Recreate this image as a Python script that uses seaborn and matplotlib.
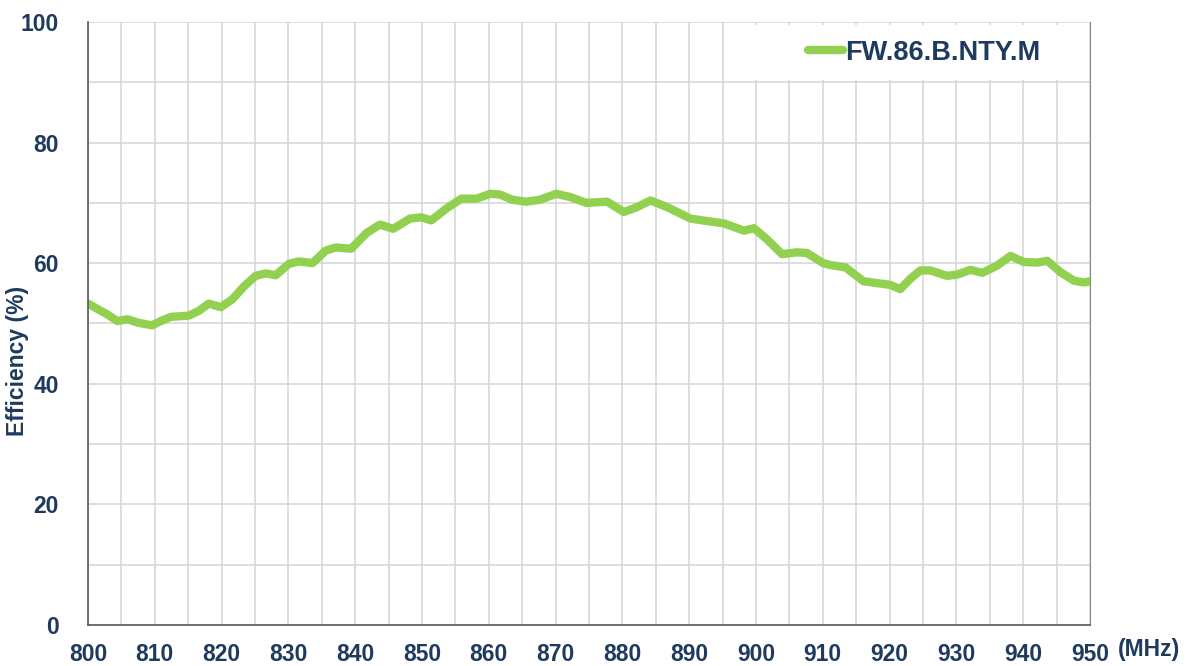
import matplotlib
matplotlib.use("Agg")
import matplotlib.pyplot as plt
from matplotlib.patches import Rectangle
from matplotlib.ticker import MultipleLocator
import pandas as pd
import seaborn as sns

# values
freq_mhz = [800, 801.6, 802.9, 804.4, 805.9, 807.6, 809.6, 810.9, 812.4, 815.1, 816.6, 818.1,
            819.9, 821.6, 823.4, 825.1, 826.6, 828.1, 830.1, 831.6, 833.6, 835.6, 837.1, 839.4,
            841.7, 843.7, 845.7, 848.2, 849.9, 851.4, 853.7, 855.9, 858.2, 860.2, 861.6, 863.6,
            865.6, 867.6, 870.1, 872.1, 874.6, 877.7, 880.2, 882.0, 884.2, 886.7, 890.2, 892.6,
            895.2, 898.2, 899.7, 901.7, 903.9, 906.1, 907.6, 910.1, 911.1, 913.4, 916.1, 918.1,
            920.1, 921.6, 923.1, 924.6, 926.1, 928.6, 930.1, 932.1, 933.9, 936.1, 938.1, 940.1,
            942.1, 943.6, 945.6, 947.6, 949.1, 950]
efficiency = [53.3, 52.3, 51.5, 50.4, 50.7, 50.1, 49.7, 50.4, 51.1, 51.3, 52.1, 53.3,
              52.7, 54.0, 56.2, 57.9, 58.3, 58.0, 59.9, 60.3, 60.0, 62.1, 62.6, 62.4,
              65.0, 66.4, 65.7, 67.4, 67.6, 67.1, 69.1, 70.7, 70.7, 71.5, 71.4, 70.5,
              70.2, 70.5, 71.5, 71.0, 70.0, 70.2, 68.5, 69.2, 70.4, 69.3, 67.4, 67.0,
              66.6, 65.4, 65.8, 63.9, 61.5, 61.8, 61.7, 60.0, 59.7, 59.3, 57.0, 56.7,
              56.4, 55.7, 57.4, 58.8, 58.8, 57.9, 58.1, 58.9, 58.4, 59.6, 61.2, 60.2,
              60.1, 60.4, 58.5, 57.1, 56.8, 57.0]
series_name = "FW.86.B.NTY.M"

text_color = "#1F3A5F"
line_color = "#92D050"

sns.set_style("white")
plt.rcParams["font.family"] = ["Liberation Sans", "DejaVu Sans"]

df = pd.DataFrame({"freq": freq_mhz, "eff": efficiency, "name": series_name})

fig = plt.figure(figsize=(11.92, 6.66), dpi=100)
ax = fig.add_axes([0.0738, 0.0616, 0.9144 - 0.0738, 0.967 - 0.0616])

sns.lineplot(data=df, x="freq", y="eff", hue="name", palette=[line_color],
             linewidth=6, ax=ax, solid_capstyle="round", solid_joinstyle="round")

ax.set_xlim(800, 950)
ax.set_ylim(0, 100)
ax.xaxis.set_major_locator(MultipleLocator(10))
ax.xaxis.set_minor_locator(MultipleLocator(5))
ax.yaxis.set_major_locator(MultipleLocator(20))
ax.yaxis.set_minor_locator(MultipleLocator(10))
ax.grid(which="both", color="#D4D4D4", linewidth=1.1)
ax.set_axisbelow(True)

ax.tick_params(axis="both", which="major", direction="in", length=5.5, width=1,
               color="#404040", labelsize=16.5, labelcolor=text_color)
ax.tick_params(axis="both", which="minor", length=0)
ax.tick_params(axis="x", pad=13)
ax.tick_params(axis="y", pad=21)
for lbl in ax.get_xticklabels() + ax.get_yticklabels():
    lbl.set_fontweight("bold")

for side in ["left", "bottom"]:
    ax.spines[side].set_color("#595959")
    ax.spines[side].set_linewidth(1.2)
ax.spines["right"].set_color("#8C8C8C")
ax.spines["top"].set_visible(False)

ax.set_xlabel("")
ax.set_ylabel("Efficiency (%)", fontsize=16.5, fontweight="bold", color=text_color)
ax.yaxis.set_label_coords(-0.0585, 0.438)
ax.text(1.059, -0.041, "(MHz)", transform=ax.transAxes, ha="center", va="center",
        fontsize=16.5, fontweight="bold", color=text_color)

# white box behind the legend, hiding the grid like the original
ax.add_patch(Rectangle((0.666, 0.904), 0.333, 0.091, transform=ax.transAxes,
                       facecolor="white", edgecolor="none", zorder=1.5))
leg = ax.legend(loc="center left", bbox_to_anchor=(0.7186, 0.9486), frameon=False,
                fontsize=19.5, handlelength=1.3, handletextpad=0.06,
                borderpad=0, borderaxespad=0)
for t in leg.get_texts():
    t.set_fontweight("bold")
    t.set_color(text_color)
for h in leg.get_lines():
    h.set_linewidth(6)
    h.set_solid_capstyle("round")

fig.savefig("out.png", dpi=100)
